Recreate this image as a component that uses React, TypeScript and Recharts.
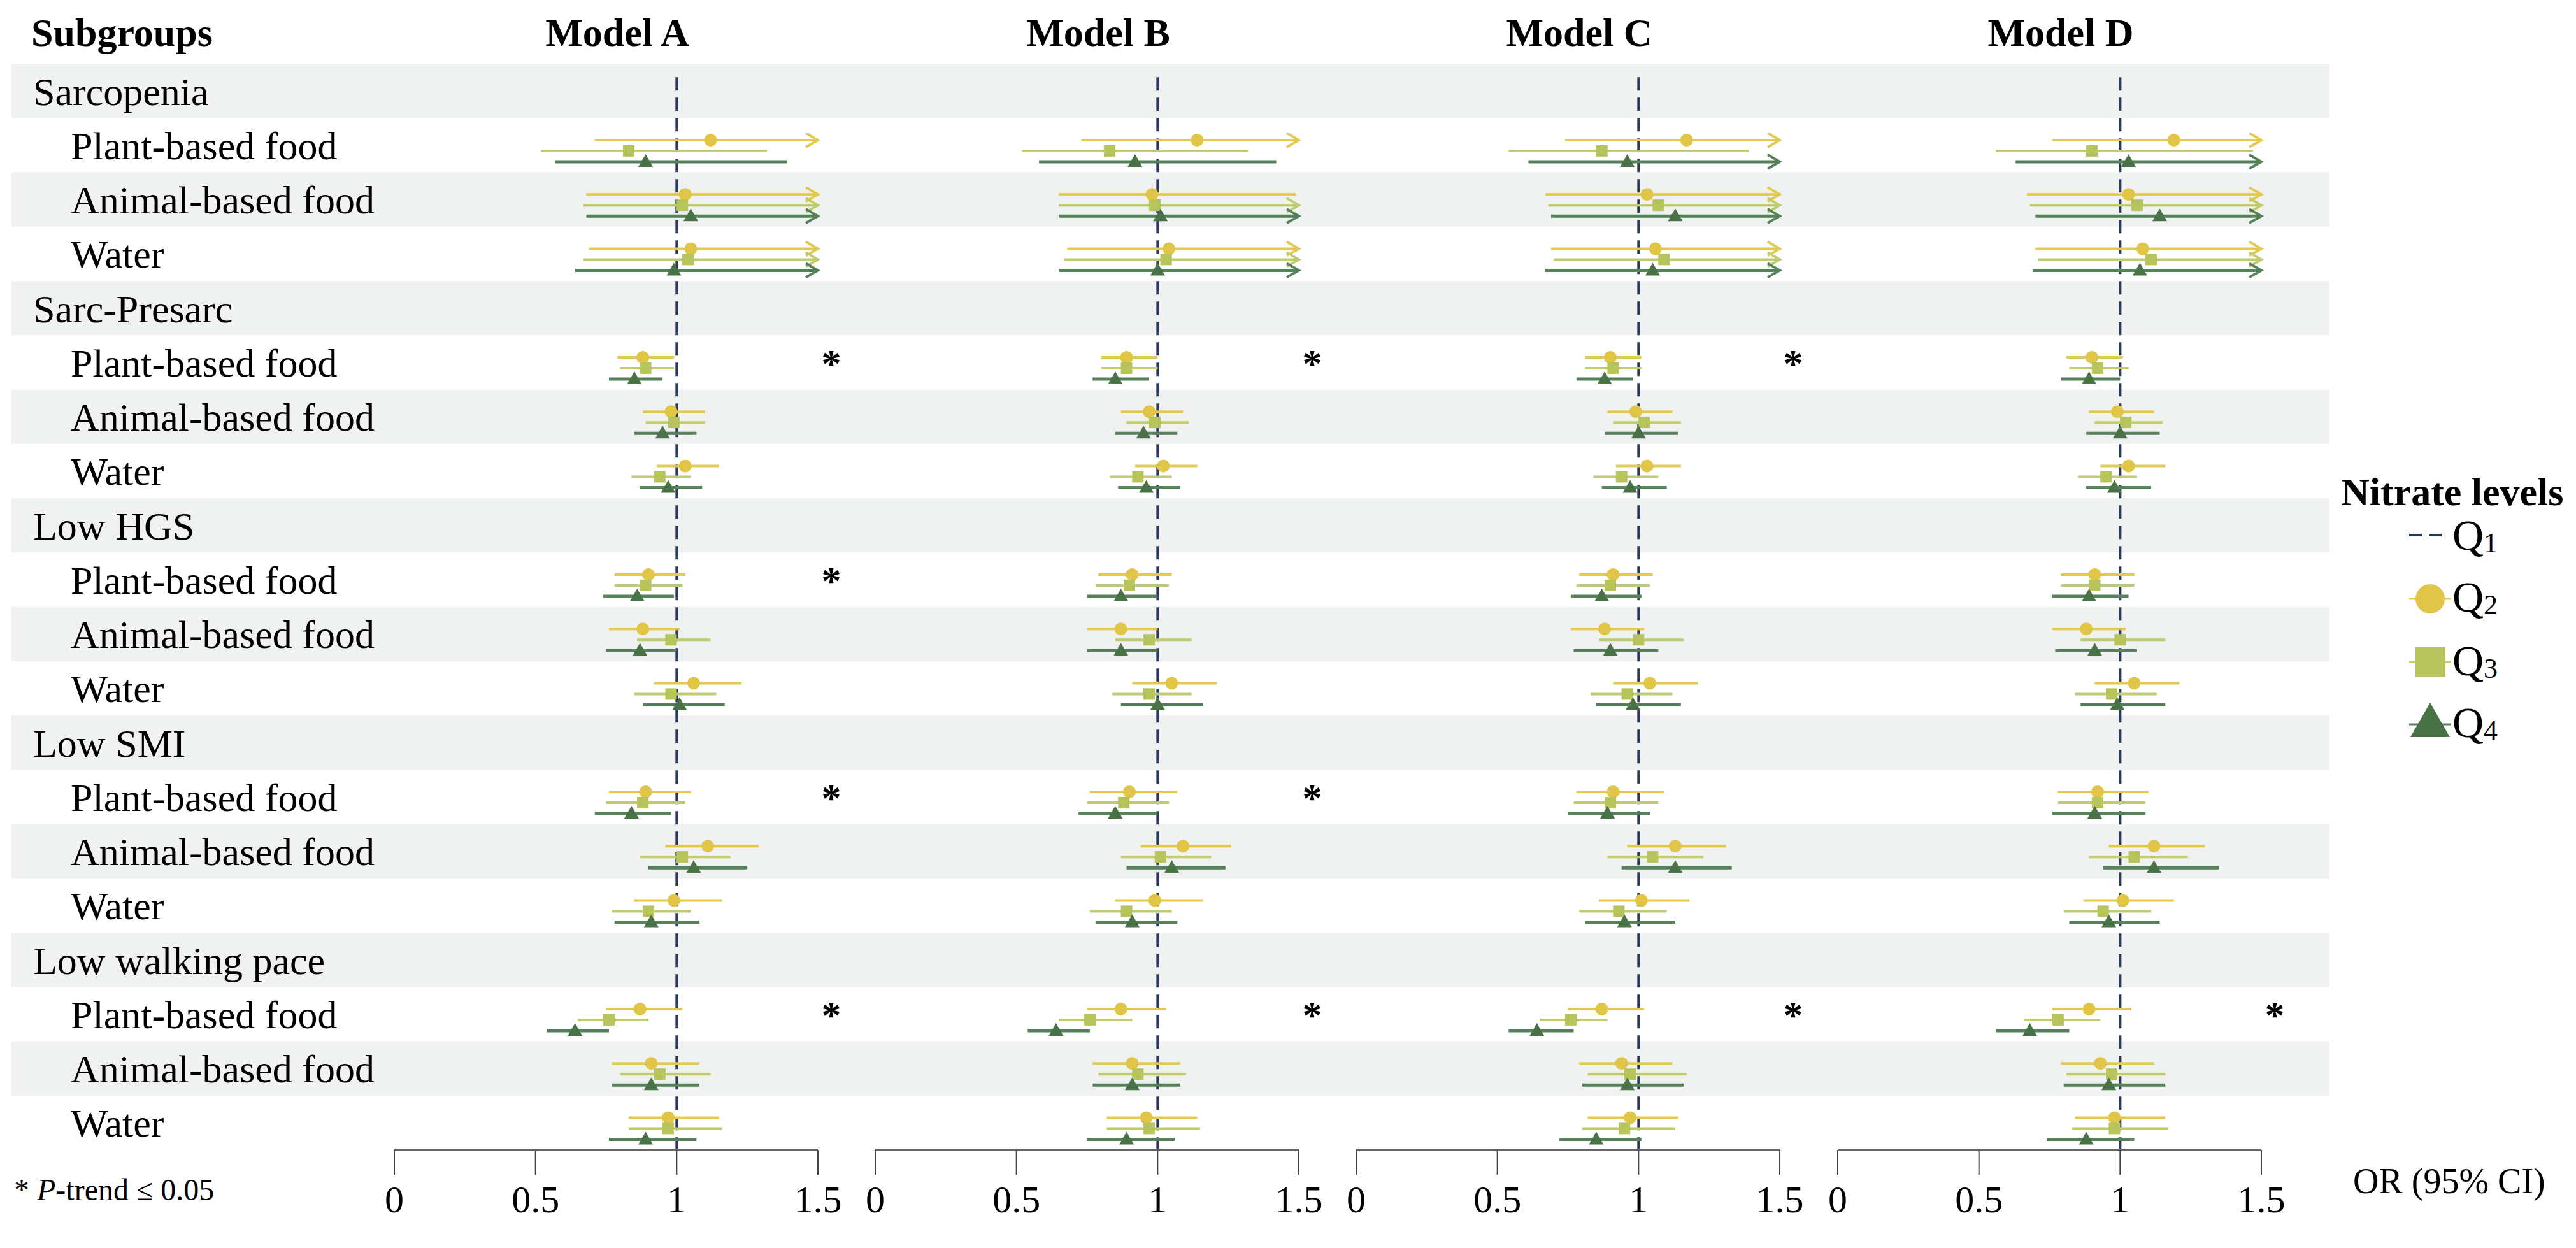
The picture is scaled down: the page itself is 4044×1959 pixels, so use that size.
import React from 'react';
import {
  ScatterChart,
  Scatter,
  XAxis,
  YAxis,
  ErrorBar,
  ReferenceArea,
  ReferenceLine,
} from 'recharts';

const CATEGORIES = ['Sarcopenia', 'Sarc-Presarc', 'Low HGS', 'Low SMI', 'Low walking pace'];
const FOODS = ['Plant-based food', 'Animal-based food', 'Water'];
const MODELS = ['Model A', 'Model B', 'Model C', 'Model D'];
const QUARTILES = ['Q2', 'Q3', 'Q4'];
const X_TICKS = [0, 0.5, 1, 1.5];

// [OR, lower, upper] for each subgroup row (category x food); upper > 1.5 is cut off with an arrow
const A_Q2 = [
  [1.12, 0.71, 1.6], [1.03, 0.68, 1.6], [1.05, 0.69, 1.6],
  [0.88, 0.79, 0.99], [0.98, 0.88, 1.10], [1.03, 0.93, 1.15],
  [0.90, 0.78, 1.03], [0.88, 0.76, 1.01], [1.06, 0.92, 1.23],
  [0.89, 0.76, 1.05], [1.11, 0.96, 1.29], [0.99, 0.85, 1.16],
  [0.87, 0.75, 1.02], [0.91, 0.77, 1.08], [0.97, 0.83, 1.15],
];
const A_Q3 = [
  [0.83, 0.52, 1.32], [1.02, 0.67, 1.6], [1.04, 0.67, 1.6],
  [0.89, 0.80, 0.99], [0.99, 0.89, 1.10], [0.94, 0.84, 1.05],
  [0.89, 0.78, 1.02], [0.98, 0.86, 1.12], [0.98, 0.85, 1.14],
  [0.88, 0.75, 1.03], [1.02, 0.87, 1.19], [0.90, 0.77, 1.05],
  [0.76, 0.65, 0.90], [0.94, 0.80, 1.12], [0.97, 0.83, 1.16],
];
const A_Q4 = [
  [0.89, 0.57, 1.39], [1.05, 0.68, 1.6], [0.99, 0.64, 1.6],
  [0.85, 0.76, 0.95], [0.95, 0.85, 1.07], [0.97, 0.87, 1.09],
  [0.86, 0.74, 0.99], [0.87, 0.75, 1.00], [1.01, 0.88, 1.17],
  [0.84, 0.71, 0.98], [1.06, 0.90, 1.25], [0.91, 0.78, 1.08],
  [0.64, 0.54, 0.76], [0.91, 0.77, 1.08], [0.89, 0.76, 1.07],
];

const B_Q2 = [
  [1.14, 0.73, 1.6], [0.98, 0.65, 1.49], [1.04, 0.68, 1.6],
  [0.89, 0.80, 1.00], [0.97, 0.87, 1.09], [1.02, 0.92, 1.14],
  [0.91, 0.79, 1.05], [0.87, 0.75, 1.00], [1.05, 0.91, 1.21],
  [0.90, 0.76, 1.07], [1.09, 0.94, 1.26], [0.99, 0.85, 1.16],
  [0.87, 0.75, 1.03], [0.91, 0.77, 1.08], [0.96, 0.82, 1.14],
];
const B_Q3 = [
  [0.83, 0.52, 1.32], [0.99, 0.65, 1.6], [1.03, 0.67, 1.6],
  [0.89, 0.80, 1.00], [0.99, 0.89, 1.11], [0.93, 0.83, 1.05],
  [0.90, 0.78, 1.04], [0.97, 0.85, 1.12], [0.97, 0.84, 1.12],
  [0.88, 0.75, 1.04], [1.01, 0.87, 1.19], [0.89, 0.76, 1.05],
  [0.76, 0.65, 0.91], [0.93, 0.79, 1.10], [0.97, 0.82, 1.15],
];
const B_Q4 = [
  [0.92, 0.58, 1.42], [1.01, 0.65, 1.6], [1.00, 0.65, 1.6],
  [0.85, 0.77, 0.97], [0.95, 0.85, 1.07], [0.96, 0.86, 1.08],
  [0.87, 0.75, 1.00], [0.87, 0.75, 1.00], [1.00, 0.87, 1.16],
  [0.85, 0.72, 1.00], [1.05, 0.89, 1.24], [0.91, 0.78, 1.07],
  [0.64, 0.54, 0.76], [0.91, 0.77, 1.08], [0.89, 0.75, 1.06],
];

const C_Q2 = [
  [1.17, 0.74, 1.6], [1.03, 0.67, 1.6], [1.06, 0.69, 1.6],
  [0.90, 0.81, 1.01], [0.99, 0.89, 1.12], [1.03, 0.92, 1.15],
  [0.91, 0.79, 1.05], [0.88, 0.76, 1.02], [1.04, 0.91, 1.21],
  [0.91, 0.78, 1.09], [1.13, 0.96, 1.31], [1.01, 0.86, 1.18],
  [0.87, 0.75, 1.02], [0.94, 0.79, 1.12], [0.97, 0.82, 1.14],
];
const C_Q3 = [
  [0.87, 0.54, 1.39], [1.07, 0.68, 1.6], [1.09, 0.70, 1.6],
  [0.91, 0.81, 1.01], [1.02, 0.91, 1.15], [0.94, 0.84, 1.07],
  [0.90, 0.78, 1.04], [1.00, 0.86, 1.16], [0.96, 0.83, 1.12],
  [0.90, 0.77, 1.07], [1.05, 0.89, 1.23], [0.93, 0.79, 1.10],
  [0.76, 0.65, 0.89], [0.97, 0.82, 1.17], [0.95, 0.80, 1.13],
];
const C_Q4 = [
  [0.96, 0.61, 1.6], [1.13, 0.69, 1.6], [1.05, 0.67, 1.6],
  [0.88, 0.78, 0.98], [1.00, 0.88, 1.14], [0.97, 0.87, 1.10],
  [0.87, 0.76, 1.01], [0.90, 0.77, 1.07], [0.98, 0.85, 1.15],
  [0.89, 0.75, 1.04], [1.13, 0.94, 1.33], [0.95, 0.81, 1.13],
  [0.64, 0.54, 0.77], [0.96, 0.80, 1.16], [0.85, 0.72, 1.01],
];

const D_Q2 = [
  [1.19, 0.76, 1.6], [1.03, 0.67, 1.6], [1.08, 0.70, 1.6],
  [0.90, 0.81, 1.01], [0.99, 0.89, 1.12], [1.03, 0.93, 1.16],
  [0.91, 0.79, 1.05], [0.88, 0.76, 1.02], [1.05, 0.91, 1.21],
  [0.92, 0.78, 1.10], [1.12, 0.96, 1.30], [1.01, 0.87, 1.19],
  [0.89, 0.76, 1.04], [0.93, 0.79, 1.12], [0.98, 0.84, 1.16],
];
const D_Q3 = [
  [0.90, 0.56, 1.47], [1.06, 0.68, 1.6], [1.11, 0.71, 1.6],
  [0.92, 0.82, 1.03], [1.02, 0.91, 1.15], [0.95, 0.85, 1.06],
  [0.91, 0.79, 1.05], [1.00, 0.86, 1.16], [0.97, 0.84, 1.13],
  [0.92, 0.78, 1.09], [1.05, 0.89, 1.24], [0.94, 0.80, 1.11],
  [0.78, 0.66, 0.93], [0.97, 0.81, 1.16], [0.98, 0.83, 1.17],
];
const D_Q4 = [
  [1.03, 0.63, 1.6], [1.14, 0.70, 1.6], [1.07, 0.69, 1.6],
  [0.89, 0.79, 1.00], [1.00, 0.88, 1.14], [0.98, 0.88, 1.11],
  [0.89, 0.76, 1.03], [0.91, 0.77, 1.06], [0.99, 0.86, 1.16],
  [0.91, 0.76, 1.09], [1.12, 0.94, 1.35], [0.96, 0.82, 1.14],
  [0.68, 0.56, 0.82], [0.96, 0.80, 1.16], [0.88, 0.74, 1.05],
];

// P-trend <= 0.05, one flag per subgroup row
const SIG_A = [0, 0, 0, 1, 0, 0, 1, 0, 0, 1, 0, 0, 1, 0, 0];
const SIG_B = [0, 0, 0, 1, 0, 0, 0, 0, 0, 1, 0, 0, 1, 0, 0];
const SIG_C = [0, 0, 0, 1, 0, 0, 0, 0, 0, 0, 0, 0, 1, 0, 0];
const SIG_D = [0, 0, 0, 0, 0, 0, 0, 0, 0, 0, 0, 0, 1, 0, 0];

const MODEL_VALUES = [
  [A_Q2, A_Q3, A_Q4],
  [B_Q2, B_Q3, B_Q4],
  [C_Q2, C_Q3, C_Q4],
  [D_Q2, D_Q3, D_Q4],
];
const MODEL_SIG = [SIG_A, SIG_B, SIG_C, SIG_D];

// layout
const W = 4044;
const H = 1959;
const SERIF = "'Liberation Serif', 'Times New Roman', Times, serif";
const PLOT_TOP = 100;
const PLOT_BOTTOM = 1805;
const BAND_LEFT = 18;
const BAND_RIGHT = 3657;
const PANEL_LEFT = [619, 1374, 2129, 2885];
const PANEL_W = 665;
const PAD_L = 40;
const PAD_R = 90;
const X_MAX = 1.5;
const BAND_FILL = '#f0f2f1';
const REF_COLOR = '#2c3a5e';

const ROWS = CATEGORIES.flatMap((c) => [
  { label: c, header: true },
  ...FOODS.map((f) => ({ label: f, header: false })),
]);
const N_ROWS = ROWS.length;
const ROW_H = (PLOT_BOTTOM - PLOT_TOP) / N_ROWS;

const SERIES = {
  Q2: { fill: '#e0c546', line: '#e2c94f', dy: -8, width: 4 },
  Q3: { fill: '#b7c45b', line: '#bfcb6c', dy: 9, width: 4 },
  Q4: { fill: '#4a7247', line: '#55805a', dy: 26, width: 5 },
};

const itemRow = (k: number) =>
  Math.floor(k / FOODS.length) * (FOODS.length + 1) + 1 + (k % FOODS.length);

const seriesPoints = (values: number[][], q: string) =>
  values.map(([or, lo, hi], k) => ({
    x: or,
    y: itemRow(k) + 0.5 + SERIES[q].dy / ROW_H,
    err: [or - lo, Math.min(hi, X_MAX) - or],
    cut: hi > X_MAX,
  }));

const rowPoints = ROWS.map((r, i) => ({ x: 0, y: i + 0.5, label: r.label, header: r.header }));

const markerShape = (q: string) => (props: any) => {
  const { cx, cy } = props;
  if (cx == null || cy == null) return null;
  const color = SERIES[q].fill;
  if (q === 'Q2') return <circle cx={cx} cy={cy} r={10} fill={color} />;
  if (q === 'Q3') return <rect x={cx - 9} y={cy - 9} width={18} height={18} fill={color} />;
  return <path d={`M${cx - 11.5},${cy + 8}L${cx + 11.5},${cy + 8}L${cx},${cy - 12}Z`} fill={color} />;
};

const arrowShape = (q: string) => (props: any) => {
  const { cx, cy } = props;
  if (cx == null || cy == null) return null;
  return (
    <path
      d={`M${cx - 19},${cy - 11}L${cx},${cy}L${cx - 19},${cy + 11}`}
      fill="none"
      stroke={SERIES[q].line}
      strokeWidth={4}
    />
  );
};

const StarShape = (props: any) => {
  const { cx, cy } = props;
  if (cx == null || cy == null) return null;
  return (
    <text x={cx + 21} y={cy + 22} textAnchor="middle" fontSize={62} fontWeight="bold" fontFamily={SERIF} fill="#000">
      *
    </text>
  );
};

const RowLabel = (props: any) => {
  const { cx, cy } = props;
  const p = props.payload || props;
  if (cx == null || cy == null) return null;
  return (
    <text x={cx + (p.header ? 34 : 93)} y={cy + 22} fontSize={62} fontFamily={SERIF} fill="#000">
      {p.label}
    </text>
  );
};

const Background = () => (
  <div style={{ position: 'absolute', left: 0, top: 0 }}>
    <ScatterChart
      width={W}
      height={H}
      margin={{ top: PLOT_TOP, right: W - BAND_RIGHT, bottom: H - PLOT_BOTTOM, left: BAND_LEFT }}
    >
      <XAxis type="number" dataKey="x" domain={[0, 1]} hide />
      <YAxis type="number" dataKey="y" domain={[0, N_ROWS]} reversed hide />
      {ROWS.map((r, i) =>
        i % 2 === 0 ? (
          <ReferenceArea key={i} y1={i} y2={i + 1} fill={BAND_FILL} fillOpacity={1} stroke="none" />
        ) : null
      )}
      <Scatter data={rowPoints} shape={RowLabel} isAnimationActive={false} />
    </ScatterChart>
  </div>
);

const Panel = ({ index }: { index: number }) => {
  const values = MODEL_VALUES[index];
  const stars = MODEL_SIG[index]
    .map((s, k) => (s ? { x: X_MAX, y: itemRow(k) + 0.5 } : null))
    .filter(Boolean);
  return (
    <div style={{ position: 'absolute', left: PANEL_LEFT[index] - PAD_L, top: 0 }}>
      <ScatterChart
        width={PANEL_W + PAD_L + PAD_R}
        height={H}
        margin={{ top: PLOT_TOP, right: PAD_R, bottom: 0, left: PAD_L }}
      >
        <XAxis
          type="number"
          dataKey="x"
          domain={[0, X_MAX]}
          ticks={X_TICKS}
          interval={0}
          height={H - PLOT_BOTTOM}
          tickSize={39}
          tickMargin={16}
          axisLine={{ stroke: '#666', strokeWidth: 4 }}
          tickLine={{ stroke: '#444', strokeWidth: 2 }}
          tick={{ fontSize: 60, fill: '#000', fontFamily: SERIF }}
          tickFormatter={(v: number) => String(v)}
        />
        <YAxis type="number" dataKey="y" domain={[0, N_ROWS]} reversed hide />
        <ReferenceLine
          segment={[{ x: 1, y: 0.25 }, { x: 1, y: N_ROWS }]}
          stroke={REF_COLOR}
          strokeWidth={4}
          strokeDasharray="21 11"
        />
        {QUARTILES.map((q, qi) => (
          <Scatter
            key={q}
            data={seriesPoints(values[qi], q)}
            shape={markerShape(q)}
            isAnimationActive={false}
          >
            <ErrorBar
              dataKey="err"
              direction="x"
              width={0}
              stroke={SERIES[q].line}
              strokeWidth={SERIES[q].width}
              isAnimationActive={false}
            />
          </Scatter>
        ))}
        {QUARTILES.map((q, qi) => (
          <Scatter
            key={'arrow-' + q}
            data={seriesPoints(values[qi], q)
              .filter((p) => p.cut)
              .map((p) => ({ x: X_MAX, y: p.y }))}
            shape={arrowShape(q)}
            isAnimationActive={false}
          />
        ))}
        <Scatter data={stars} shape={StarShape} isAnimationActive={false} />
      </ScatterChart>
    </div>
  );
};

const LEGEND_X = 3782;
const Legend = () => (
  <g>
    <text x={3675} y={793} fontSize={62} fontWeight="bold">Nitrate levels</text>
    {/* Q1 reference */}
    <line x1={LEGEND_X} x2={LEGEND_X + 51} y1={840} y2={840} stroke={REF_COLOR} strokeWidth={4} strokeDasharray="20 11" />
    <text x={3850} y={863} fontSize={68}>Q<tspan fontSize={44} dy={4}>1</tspan></text>
    {/* Q2 */}
    <line x1={LEGEND_X} x2={LEGEND_X + 66} y1={940} y2={940} stroke={SERIES.Q2.line} strokeWidth={3} />
    <circle cx={3815} cy={940} r={23} fill={SERIES.Q2.fill} />
    <text x={3850} y={960} fontSize={68}>Q<tspan fontSize={44} dy={4}>2</tspan></text>
    {/* Q3 */}
    <line x1={LEGEND_X} x2={LEGEND_X + 66} y1={1039} y2={1039} stroke={SERIES.Q3.line} strokeWidth={3} />
    <rect x={3792} y={1016} width={47} height={46} fill={SERIES.Q3.fill} />
    <text x={3850} y={1060} fontSize={68}>Q<tspan fontSize={44} dy={4}>3</tspan></text>
    {/* Q4 */}
    <line x1={LEGEND_X} x2={LEGEND_X + 66} y1={1137} y2={1137} stroke={SERIES.Q4.line} strokeWidth={3} />
    <path d="M3784,1157L3846,1157L3815,1103Z" fill={SERIES.Q4.fill} />
    <text x={3850} y={1157} fontSize={68}>Q<tspan fontSize={44} dy={4}>4</tspan></text>
  </g>
);

const App = () => (
  <div style={{ position: 'relative', width: W, height: H, background: '#fff', fontFamily: SERIF }}>
    <style>{'html,body{margin:0;padding:0;background:#fff;}'}</style>
    <Background />
    {MODELS.map((m, i) => (
      <Panel key={m} index={i} />
    ))}
    <svg
      width={W}
      height={H}
      style={{ position: 'absolute', left: 0, top: 0, pointerEvents: 'none' }}
      fontFamily={SERIF}
      fill="#000"
    >
      <text x={49} y={72} fontSize={62} fontWeight="bold">Subgroups</text>
      {MODELS.map((m, i) => (
        <text key={m} x={PANEL_LEFT[i] + 350} y={72} fontSize={62} fontWeight="bold" textAnchor="middle">
          {m}
        </text>
      ))}
      <text x={22} y={1884} fontSize={48}>
        * <tspan fontStyle="italic">P</tspan>-trend ≤ 0.05
      </text>
      <text x={3694} y={1873} fontSize={56}>OR (95% CI)</text>
      <Legend />
    </svg>
  </div>
);

export default App;
